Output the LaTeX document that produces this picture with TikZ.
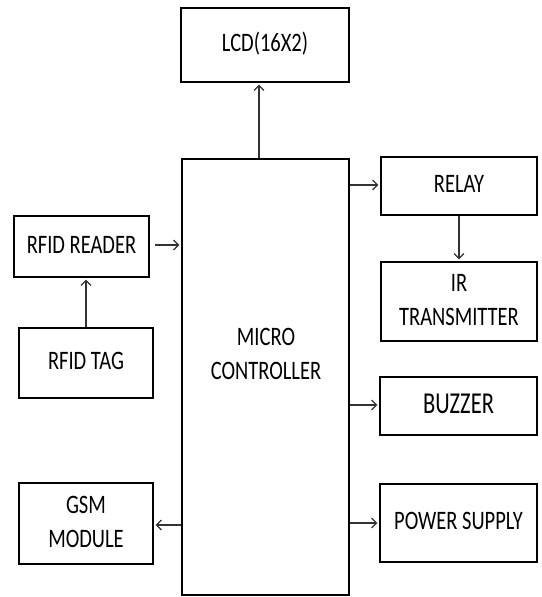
\documentclass[tikz,border=0pt]{standalone}
\usepackage{fontspec}
\setmainfont{Carlito}
\usetikzlibrary{arrows.meta,calc}
\newcommand{\vst}[2][1.3]{\scalebox{1}[#1]{\begin{tabular}{@{}c@{}}#2\end{tabular}}}
\begin{document}
\begin{tikzpicture}[x=1pt,y=-1pt,
  blk/.style={draw=black,line width=2.6pt,rectangle,inner sep=0pt,
    font=\fontsize{20.5}{26}\selectfont},
  arr/.style={draw=black!80,line width=1.3pt,-{Straight Barb[length=5pt,width=10pt,line width=1.2pt]},shorten >=1.3pt}]
\useasboundingbox (0,0) rectangle (541,597);
\node[blk,minimum width=168pt,minimum height=74pt] (lcd) at (265,45) {\vst{LCD(16X2)}};
\node[blk,minimum width=167pt,minimum height=436pt] (mc) at (265.5,377) {};
\node[font=\fontsize{20.5}{26}\selectfont,inner sep=0pt] (mctext) at (266,356) {\vst{MICRO\\CONTROLLER}};
\node[blk,minimum width=156pt,minimum height=58pt] (relay) at (459,186) {\vst{RELAY}};
\node[blk,minimum width=156pt,minimum height=79pt] (ir) at (459,301.5) {\vst{IR\\TRANSMITTER}};
\node[blk,minimum width=157pt,minimum height=58pt,font=\fontsize{22.5}{28}\selectfont] (buzzer) at (458.5,406) {\vst[1.35]{BUZZER}};
\node[blk,minimum width=157pt,minimum height=78pt] (power) at (458.5,523) {\vst{POWER SUPPLY}};
\node[blk,minimum width=135pt,minimum height=61pt] (reader) at (81.5,246.5) {\vst{RFID READER}};
\node[blk,minimum width=134pt,minimum height=70pt] (tag) at (86,363) {\vst{RFID TAG}};
\node[blk,minimum width=134pt,minimum height=81pt] (gsm) at (86,523.5) {\vst{GSM\\MODULE}};
\draw[arr] ([xshift=-6.5pt]mc.north) -- ([xshift=-6pt]lcd.south);
\draw[arr] ([yshift=1pt]relay.west -| mc.east) -- ([yshift=1pt]relay.west);
\draw[arr] ([xshift=5pt,yshift=1.5pt]reader.east) -- ([yshift=1.5pt]reader.east -| mc.west);
\draw[arr] (tag.north) -- (reader.south -| tag.north);
\draw[arr] (relay.south) -- (ir.north);
\draw[arr] ([yshift=1pt]buzzer.west -| mc.east) -- ([yshift=1pt]buzzer.west);
\draw[arr] (power.west -| mc.east) -- (power.west);
\draw[arr] ([yshift=-1.5pt]gsm.east -| mc.west) -- ([yshift=-1.5pt]gsm.east);
\end{tikzpicture}
\end{document}
